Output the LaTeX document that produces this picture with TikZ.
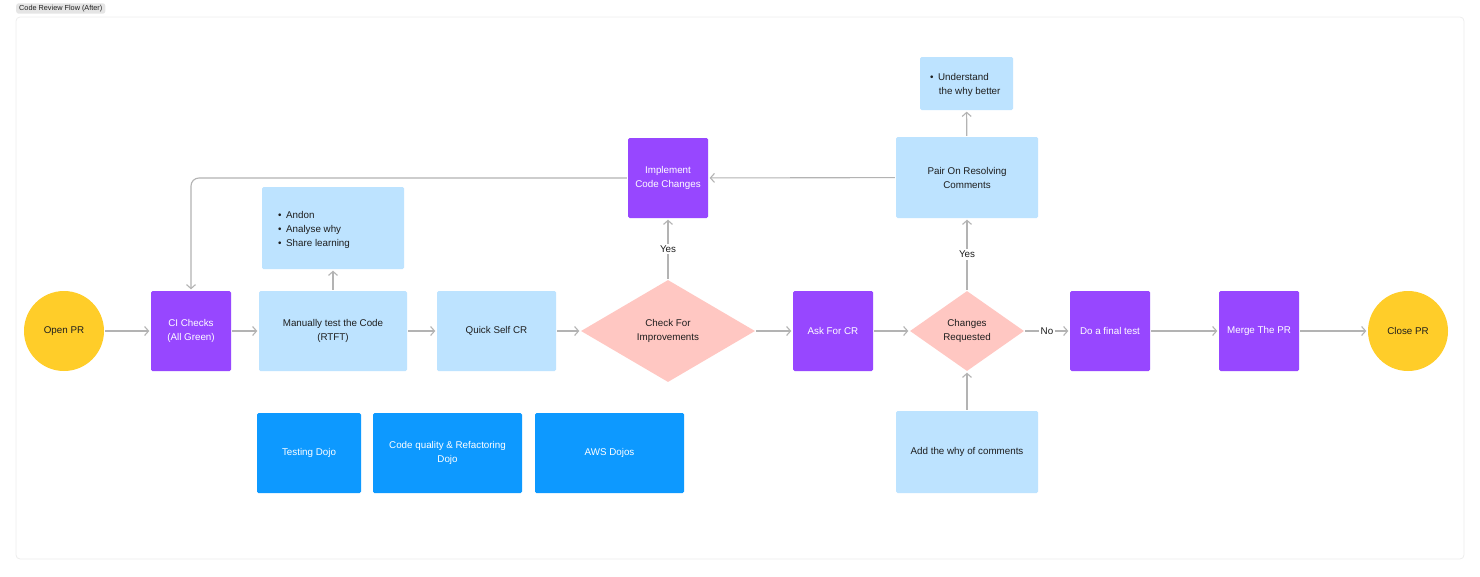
\documentclass[tikz,border=0pt]{standalone}
\usepackage{fontspec}
\setmainfont{Liberation Sans}
\usetikzlibrary{shapes.geometric,arrows.meta}
\definecolor{purp}{HTML}{9747FF}
\definecolor{lblue}{HTML}{BDE3FF}
\definecolor{dblue}{HTML}{0D99FF}
\definecolor{yell}{HTML}{FFCD29}
\definecolor{pink}{HTML}{FFC7C2}
\definecolor{lgray}{HTML}{B3B3B3}
\definecolor{ink}{HTML}{1E1E1E}
\tikzset{
  base/.style={font=\fontsize{9.8}{14}\selectfont, align=center, inner sep=0pt},
  term/.style={base, circle, fill=yell, minimum size=80pt, text=ink},
  pbox/.style={base, rectangle, rounded corners=1.5pt, fill=purp, text=white, minimum width=80pt, minimum height=80pt},
  lbox/.style={base, rectangle, rounded corners=1.5pt, fill=lblue, text=ink},
  dbox/.style={base, rectangle, rounded corners=1.5pt, fill=dblue, text=white, minimum height=80pt},
  dec/.style={base, diamond, fill=pink, text=ink},
  flow/.style={draw=lgray, line width=1.1pt, -{Straight Barb[length=4pt,width=9pt]}, shorten >=1.5pt, shorten <=1pt},
  lab/.style={base, fill=white, text=ink, inner sep=2pt},
}
\begin{document}
\begin{tikzpicture}[x=1pt,y=-1pt]
\useasboundingbox (0,0) rectangle (1480,576);
% frame
\draw[draw=black!7, line width=0.8pt, rounded corners=4pt, fill=white] (16,17) rectangle (1464,559);
\node[fill=black!10, rounded corners=2.5pt, inner xsep=3pt, inner ysep=1.8pt, font=\fontsize{7.3}{8}\selectfont, text=ink, anchor=west] (title) at (16,8.5) {Code Review Flow (After)};

% nodes
\node[term] (open) at (64,331) {Open PR};
\node[pbox] (ci) at (191,331) {CI Checks\\(All Green)};
\node[lbox, minimum width=148pt, minimum height=80pt] (manual) at (333,331) {Manually test the Code\\(RTFT)};
\node[lbox, minimum width=142pt, minimum height=82pt] (andon) at (333,228) {};
\node[base, text=ink, align=left, anchor=north west] (andontxt) at (278,211) {\textbullet\hspace{4.5pt}Andon\\\textbullet\hspace{4.5pt}Analyse why\\\textbullet\hspace{4.5pt}Share learning};
\node[lbox, minimum width=119pt, minimum height=80pt] (quick) at (496.5,331) {Quick Self CR};
\node[dec, minimum width=174pt, minimum height=102pt] (check) at (668,331) {Check For\\Improvements};
\node[pbox] (impl) at (668,178) {Implement\\Code Changes};
\node[pbox] (ask) at (833,331) {Ask For CR};
\node[dec, minimum width=114pt, minimum height=80pt] (chg) at (967,331) {Changes\\Requested};
\node[lbox, minimum width=142pt, minimum height=81pt] (pair) at (967,177.5) {Pair On Resolving\\Comments};
\node[lbox, minimum width=93pt, minimum height=53pt] (und) at (966.5,83.5) {};
\node[base, text=ink, align=left, anchor=north west] (undtxt) at (930,73) {\textbullet\hspace{4.5pt}Understand\\\hspace{8.7pt}the why better};
\node[lbox, minimum width=142pt, minimum height=82pt] (add) at (967,452) {Add the why of comments};
\node[pbox] (final) at (1110,331) {Do a final test};
\node[pbox] (merge) at (1259,331) {Merge The PR};
\node[term] (close) at (1408,331) {Close PR};
\node[dbox, minimum width=104pt] (tdojo) at (309,453) {Testing Dojo};
\node[dbox, minimum width=149pt] (cdojo) at (447.5,453) {Code quality \& Refactoring\\Dojo};
\node[dbox, minimum width=149pt] (adojo) at (609.5,453) {AWS Dojos};

% connectors
\draw[flow] (open) -- (ci);
\draw[flow] (ci) -- (manual);
\draw[flow] (manual) -- (andon);
\draw[flow] (manual) -- (quick);
\draw[flow] (quick) -- (check);
\draw[flow] (check) -- node[lab, pos=0.5] (yes1) {Yes} (impl);
\draw[flow] (check) -- (ask);
\draw[flow] (ask) -- (chg);
\draw[flow] (chg) -- node[lab, pos=0.5] (yes2) {Yes} (pair);
\draw[flow] (chg) -- node[lab, pos=0.5] (no) {No} (final);
\draw[flow] (pair) -- (und);
\draw[flow] (pair) -- (impl);
\draw[flow, rounded corners=8pt] (impl.west) -| (ci.north);
\draw[flow] (add) -- (chg);
\draw[flow] (final) -- (merge);
\draw[flow] (merge) -- (close);
\end{tikzpicture}
\end{document}
